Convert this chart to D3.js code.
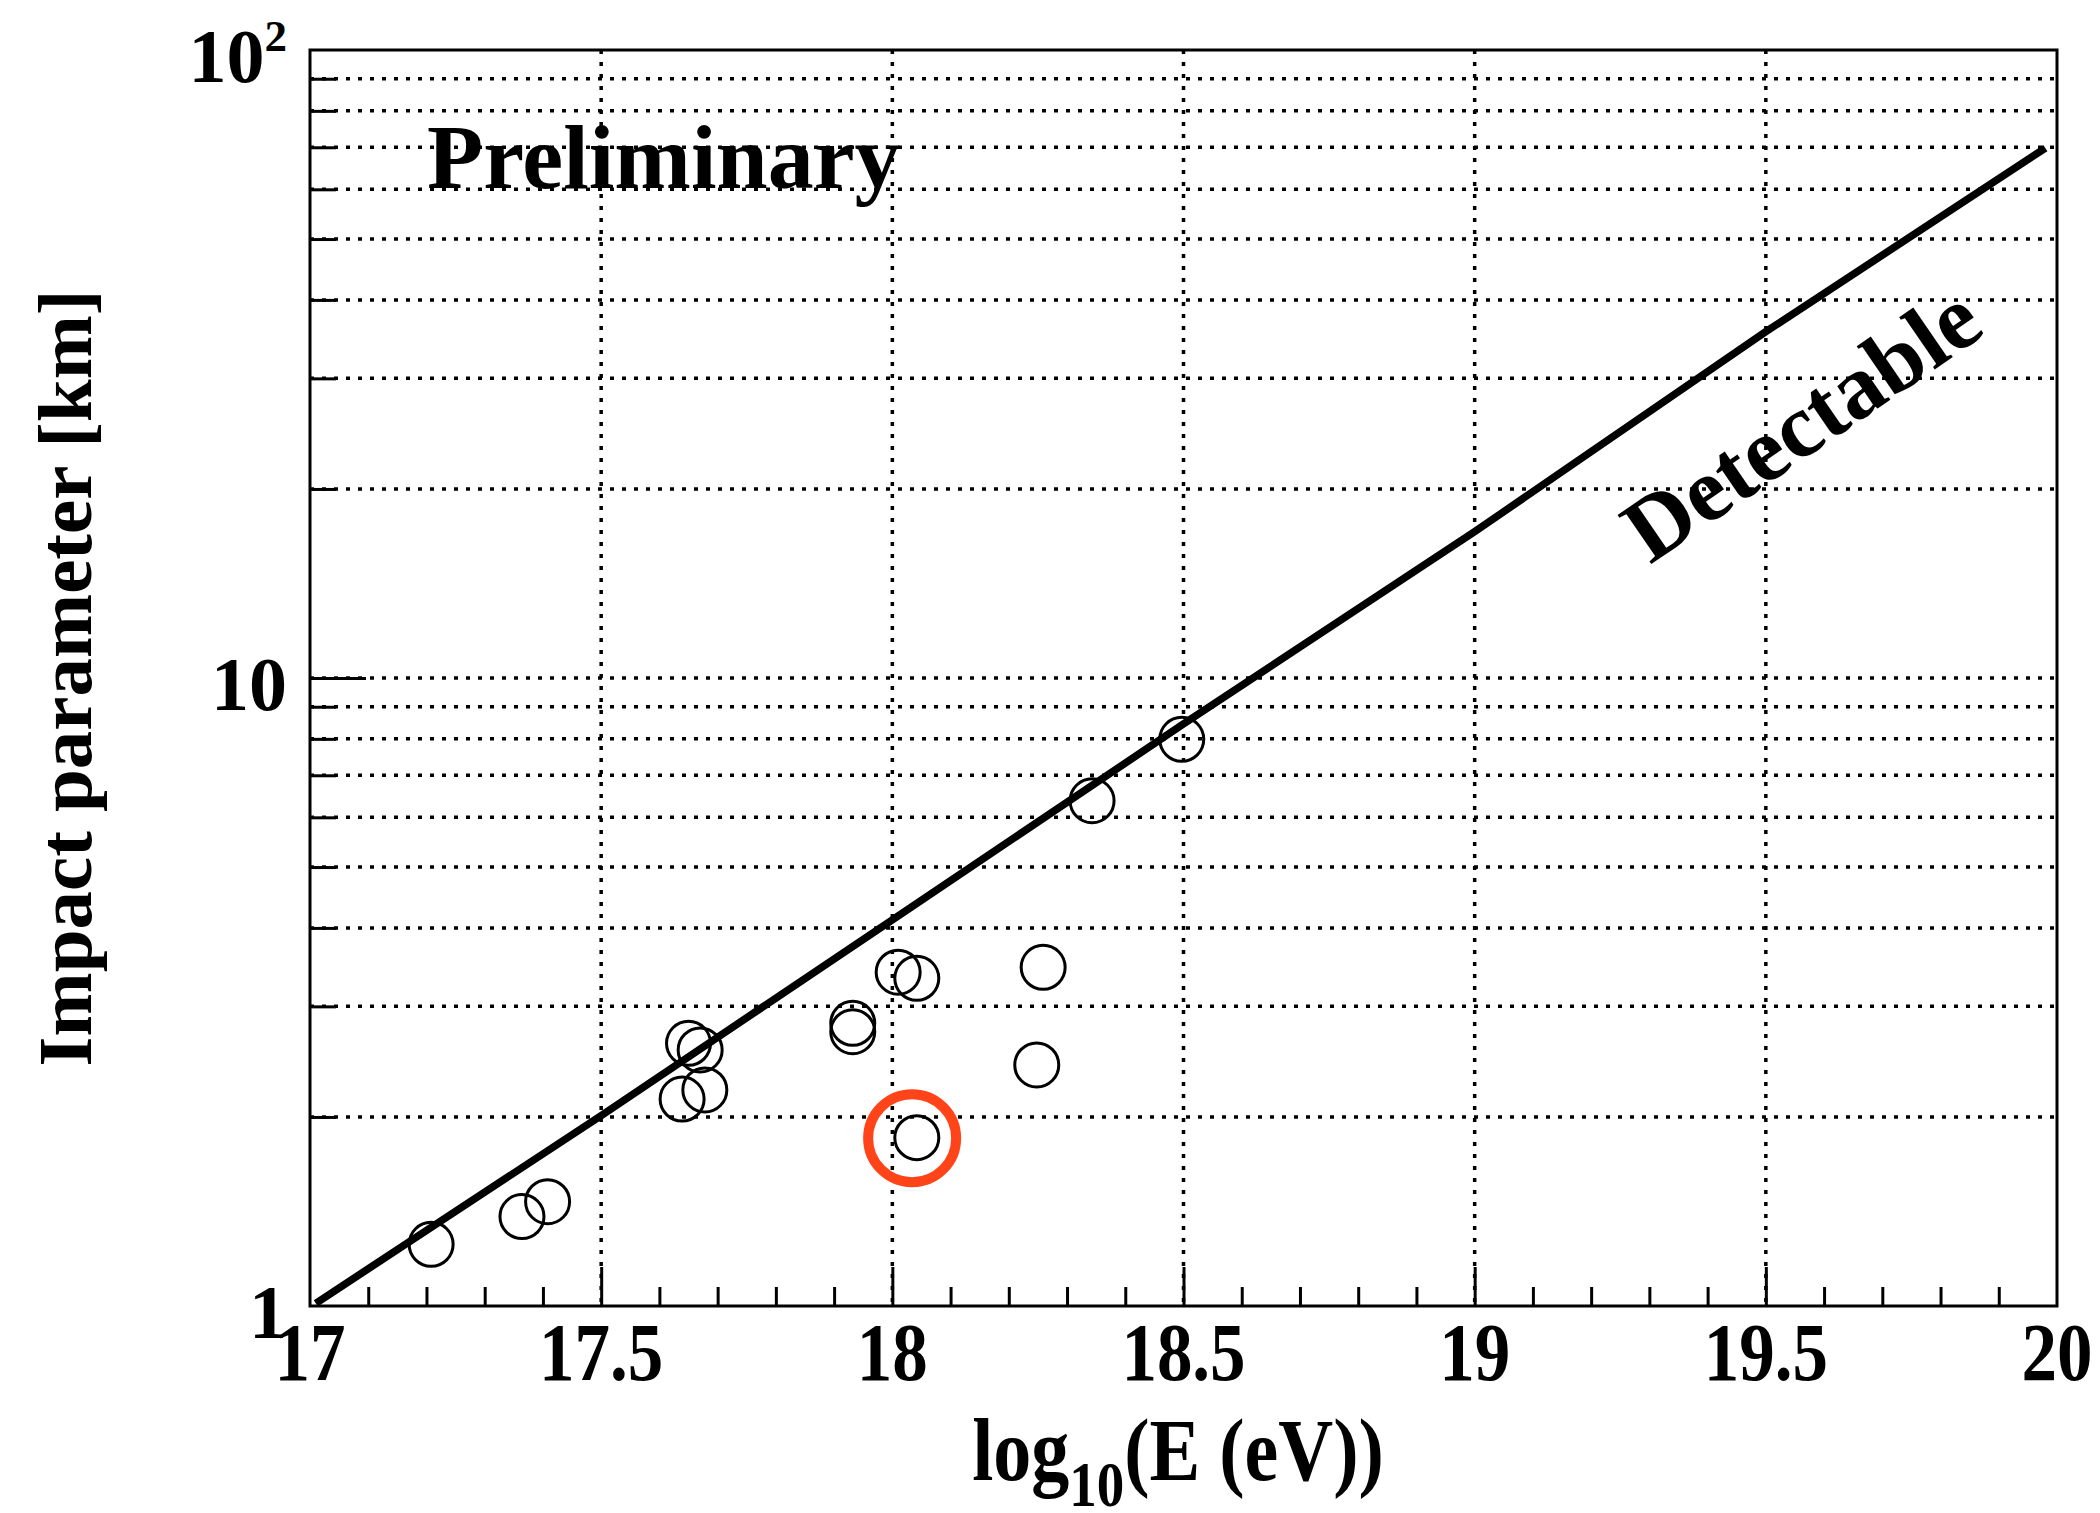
<!DOCTYPE html>
<html lang="en">
<head>
<meta charset="UTF-8">
<title>Impact parameter vs energy</title>
<script src="https://d3js.org/d3.v7.min.js"></script>
<style>
body { margin: 0; background: #fff; }
svg text { font-family: "Liberation Serif", "Times New Roman", serif; font-weight: bold; fill: #000; }
.grid line { stroke: #000; stroke-width: 3.5; stroke-dasharray: 4 8; }
.tick line { stroke: #000; stroke-width: 3; }
</style>
</head>
<body>
<svg width="2100" height="1513"></svg>
<script>
// events: log10(E/eV) and impact parameter (km)
const eventEnergy = [17.208, 17.364, 17.408, 17.650, 17.670, 17.639, 17.678, 17.932, 17.932,
                     18.010, 18.042, 18.259, 18.248, 18.042, 18.343, 18.497];
const eventImpact = [1.254, 1.388, 1.466, 2.620, 2.557, 2.136, 2.208, 2.819, 2.734,
                     3.400, 3.325, 3.462, 2.420, 1.854, 6.376, 7.987];

// highlighted event (red ring)
const markEnergy = [18.034];
const markImpact = [1.85];

// detectable limit
const limitEnergy = [17.01, 17.5, 18, 18.5, 19, 19.5, 19.98];
const limitImpact = [1.01, 2.01, 4.12, 8.45, 17.1, 35.6, 69.8];

const xMajorTicks = [17, 17.5, 18, 18.5, 19, 19.5, 20];
const xTickLabels = ["17", "17.5", "18", "18.5", "19", "19.5", "20"];
const xGridTicks = [17.5, 18, 18.5, 19, 19.5];
const yMajorTicks = [1, 10, 100];
const yMinorTicks = [2, 3, 4, 5, 6, 7, 8, 9, 20, 30, 40, 50, 60, 70, 80, 90];
const yGridTicks = [2, 3, 4, 5, 6, 7, 8, 9, 10, 20, 30, 40, 50, 60, 70, 80, 90];

const svg = d3.select("svg");
const pLeft = 310, pRight = 2057, pTop = 50, pBottom = 1306;

const x = d3.scaleLinear().domain([17, 20]).range([pLeft, pRight]);
const y = d3.scaleLog().domain([1, 100]).range([pBottom, pTop]);

const xMinorTicks = d3.range(171, 200).filter(v => v % 5 !== 0).map(v => v / 10);

// grid
const grid = svg.append("g").attr("class", "grid");
grid.selectAll(".hg").data(yGridTicks).enter().append("line")
    .attr("x1", pLeft).attr("x2", pRight)
    .attr("y1", d => y(d)).attr("y2", d => y(d));
grid.selectAll(".vg").data(xGridTicks).enter().append("line")
    .attr("x1", d => x(d)).attr("x2", d => x(d))
    .attr("y1", pTop).attr("y2", pBottom);

// limit line
const line = d3.line()
    .x((d, i) => x(limitEnergy[i]))
    .y(d => y(d));
svg.append("path")
    .datum(limitImpact)
    .attr("d", line)
    .attr("fill", "none")
    .attr("stroke", "#000")
    .attr("stroke-width", 7.5);

// events
svg.selectAll(".ev")
    .data(eventEnergy)
    .enter()
    .append("circle")
    .attr("cx", d => x(d))
    .attr("cy", (d, i) => y(eventImpact[i]))
    .attr("r", 22)
    .attr("fill", "none")
    .attr("stroke", "#000")
    .attr("stroke-width", 3);

svg.selectAll(".mark")
    .data(markEnergy)
    .enter()
    .append("circle")
    .attr("cx", d => x(d))
    .attr("cy", (d, i) => y(markImpact[i]))
    .attr("r", 44)
    .attr("fill", "none")
    .attr("stroke", "#ff4419")
    .attr("stroke-width", 10);

// axes ticks
function ticks(g) { g.select(".domain").remove(); }
svg.append("g").attr("transform", `translate(0,${pBottom})`)
    .call(d3.axisBottom(x).tickValues(xMinorTicks).tickSize(-19).tickFormat("")).call(ticks);
svg.append("g").attr("transform", `translate(0,${pBottom})`)
    .call(d3.axisBottom(x).tickValues(xMajorTicks.slice(1, -1)).tickSize(-39).tickFormat("")).call(ticks);
svg.append("g").attr("transform", `translate(${pLeft},0)`)
    .call(d3.axisLeft(y).tickValues(yMinorTicks).tickSize(-26).tickFormat("")).call(ticks);
svg.append("g").attr("transform", `translate(${pLeft},0)`)
    .call(d3.axisLeft(y).tickValues([10]).tickSize(-56).tickFormat("")).call(ticks);

// frame
svg.append("rect")
    .attr("x", x(17)).attr("y", y(100))
    .attr("width", x(20) - x(17)).attr("height", y(1) - y(100))
    .attr("fill", "none").attr("stroke", "#000").attr("stroke-width", 3);

// x labels
svg.selectAll(".xl")
    .data(xMajorTicks)
    .enter()
    .append("text")
    .attr("transform", d => `translate(${x(d)},1380) scale(1,1.16)`)
    .attr("text-anchor", "middle")
    .style("font-size", "71px")
    .text((d, i) => xTickLabels[i]);

// y labels
const yl = svg.selectAll(".yl")
    .data(yMajorTicks)
    .enter()
    .append("text")
    .attr("x", 287)
    .attr("y", d => y(d) + 32)
    .attr("text-anchor", "end")
    .style("font-size", "76px");
yl.append("tspan").text(d => d === 100 ? "10" : String(d));
yl.filter(d => d === 100).append("tspan")
    .attr("dy", -31).style("font-size", "45px").text("2");

// titles
const xt = svg.append("text")
    .attr("transform", "translate(1178,1480) scale(1,1.16)")
    .attr("text-anchor", "middle")
    .style("font-size", "76px");
xt.append("tspan").text("log");
xt.append("tspan").attr("dy", 22).style("font-size", "55px").text("10");
xt.append("tspan").attr("dy", -22).text("(E (eV))");

svg.append("text")
    .attr("transform", "translate(91,678) rotate(-90)")
    .attr("text-anchor", "middle")
    .style("font-size", "77px")
    .text("Impact parameter [km]");

svg.append("text")
    .attr("x", 427).attr("y", 188)
    .style("font-size", "92px")
    .text("Preliminary");

svg.append("text")
    .attr("transform", "translate(1650,565) rotate(-34.5)")
    .style("font-size", "91px")
    .text("Detectable");
</script>
</body>
</html>
